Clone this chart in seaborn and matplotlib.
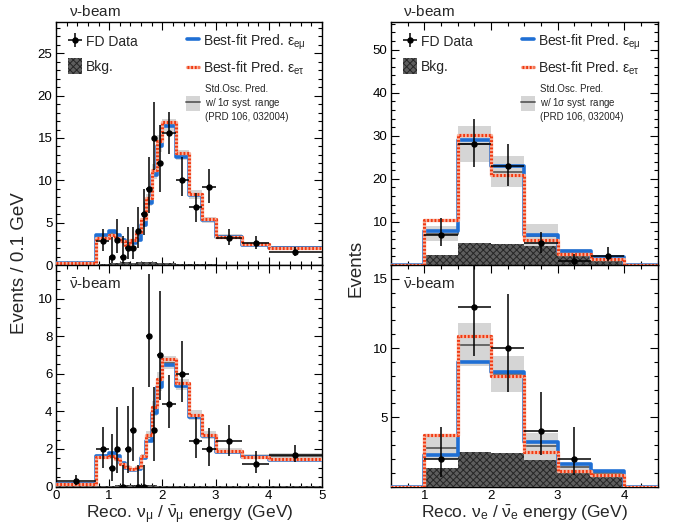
import numpy as np
import pandas as pd
import matplotlib
matplotlib.use("Agg")
import matplotlib.pyplot as plt
import seaborn as sns
from matplotlib.lines import Line2D
from matplotlib.patches import Patch
from matplotlib.ticker import MultipleLocator, FixedLocator

nan = np.nan

# ---- binning (GeV) ----
numu_edges = [0, 0.75, 1.0, 1.1, 1.2, 1.3, 1.4, 1.5, 1.6, 1.7, 1.8, 1.9, 2.0,
              2.25, 2.5, 2.75, 3.0, 3.5, 4.0, 5.0]
nue_edges = [0.5, 1.0, 1.5, 2.0, 2.5, 3.0, 3.5, 4.0, 4.5]

# ---- nu-beam, numu (events / 0.1 GeV) ----
fhc_mu_emu = [0.2, 3.5, 4.0, 3.5, 3.0, 2.5, 2.6, 3.0, 4.7, 7.3, 10.6, 14.0, 16.4, 12.8, 8.3, 5.3, 3.3, 2.4, 2.0]
fhc_mu_etau = [0.2, 3.2, 3.6, 3.2, 2.8, 2.4, 3.0, 3.9, 5.4, 7.9, 11.2, 14.6, 16.9, 13.2, 8.4, 5.4, 3.35, 2.5, 2.05]
fhc_mu_std = [0.2, 3.3, 3.8, 3.3, 2.9, 2.5, 2.8, 3.5, 5.0, 7.7, 11.0, 14.3, 16.5, 13.0, 8.3, 5.3, 3.4, 2.5, 2.1]
fhc_mu_syst = [0.05, 0.3, 0.3, 0.3, 0.3, 0.25, 0.3, 0.35, 0.5, 0.7, 0.9, 1.0, 0.8, 0.6, 0.5, 0.35, 0.3, 0.25, 0.2]
fhc_mu_bkg = [0.05, 0.15, 0.2, 0.25, 0.3, 0.3, 0.25, 0.3, 0.35, 0.35, 0.3, 0.25, 0.2, 0.15, 0.1, 0.08, 0.05, 0.04, 0.03]
fhc_mu_data = [nan, 2.8, 1.0, 3.0, 1.0, 2.0, 2.0, 4.0, 6.0, 9.0, 15.0, 12.0, 15.6, 10.0, 6.8, 9.2, 3.2, 2.6, 1.5]
fhc_mu_lo = [nan, 1.1, 0.8, 1.6, 0.8, 1.3, 1.3, 2.0, 2.5, 2.9, 3.8, 3.4, 2.5, 1.9, 1.7, 1.9, 0.85, 0.75, 0.45]
fhc_mu_hi = [nan, 1.4, 2.3, 2.4, 2.4, 2.5, 2.5, 2.8, 3.0, 3.8, 4.3, 4.5, 2.5, 2.8, 1.7, 2.1, 1.1, 0.85, 0.6]

# ---- antinu-beam, numu (events / 0.1 GeV) ----
rhc_mu_emu = [0.15, 1.64, 1.76, 1.6, 1.25, 1.0, 0.88, 0.95, 1.5, 2.45, 3.9, 5.3, 6.45, 5.35, 3.7, 2.7, 1.85, 1.55, 1.4]
rhc_mu_etau = [0.15, 1.55, 1.64, 1.46, 1.2, 1.05, 0.92, 1.05, 1.65, 2.75, 4.25, 5.75, 6.8, 5.5, 3.8, 2.75, 1.9, 1.55, 1.45]
rhc_mu_std = [0.17, 1.6, 1.7, 1.55, 1.22, 1.02, 0.9, 1.0, 1.6, 2.65, 4.15, 5.6, 6.6, 5.45, 3.8, 2.75, 1.9, 1.6, 1.6]
rhc_mu_syst = [0.08, 0.12, 0.12, 0.12, 0.1, 0.1, 0.1, 0.1, 0.15, 0.3, 0.4, 0.5, 0.35, 0.3, 0.25, 0.2, 0.15, 0.12, 0.17]
rhc_mu_bkg = [0.03, 0.05, 0.05, 0.06, 0.06, 0.06, 0.06, 0.06, 0.07, 0.07, 0.06, 0.05, 0.05, 0.04, 0.03, 0.03, 0.02, 0.02, 0.02]
rhc_mu_data = [0.27, 2.0, 1.0, 2.0, 0.0, 2.0, 3.0, 0.0, 0.0, 8.0, 3.0, 7.0, 4.4, 6.0, 2.4, 2.0, 2.4, 1.2, 1.7]
rhc_mu_lo = [0.17, 1.0, 0.7, 1.3, 0.0, 1.3, 1.65, 0.0, 0.0, 2.7, 1.65, 2.4, 1.3, 1.5, 0.9, 0.9, 0.76, 0.48, 0.42]
rhc_mu_hi = [0.35, 1.15, 1.8, 2.25, 1.15, 2.3, 2.3, 1.15, 1.15, 3.3, 2.3, 3.4, 1.55, 1.75, 1.3, 1.1, 0.87, 0.68, 0.5]

# ---- nu-beam, nue (events) ----
fhc_e_emu = [0, 7.8, 29.0, 23.0, 7.0, 3.3, 1.9, 0]
fhc_e_etau = [0, 10.5, 30.2, 21.0, 5.7, 2.5, 1.3, 0]
fhc_e_std = [0, 7.3, 28.0, 21.7, 6.8, 2.8, 1.5, 0]
fhc_e_syst = [0, 1.7, 4.2, 3.7, 2.7, 0.8, 0.5, 0]
fhc_e_bkg = [0, 2.4, 5.0, 4.9, 4.5, 2.0, 1.5, 0]
fhc_e_data = [nan, 7, 28, 23, 5, 1, 2, nan]
fhc_e_lo = [nan, 2.6, 5.2, 4.7, 2.3, 0.9, 1.0, nan]
fhc_e_hi = [nan, 3.8, 5.8, 5.2, 2.7, 1.6, 2.2, nan]

# ---- antinu-beam, nue (events) ----
rhc_e_emu = [0, 2.3, 9.0, 8.3, 3.2, 1.6, 1.1, 0]
rhc_e_etau = [0, 3.7, 10.9, 8.0, 2.5, 1.15, 0.85, 0]
rhc_e_std = [0, 2.8, 10.25, 8.1, 2.9, 1.4, 0.95, 0]
rhc_e_syst = [0, 0.8, 1.55, 1.3, 0.95, 0.3, 0.2, 0]
rhc_e_bkg = [0, 1.35, 2.5, 2.45, 1.9, 1.2, 0.9, 0]
rhc_e_data = [nan, 2, 13, 10, 4, 2, nan, nan]
rhc_e_lo = [nan, 1.3, 3.6, 3.2, 1.7, 1.2, nan, nan]
rhc_e_hi = [nan, 2.3, 4.7, 3.9, 2.8, 2.3, nan, nan]

BLUE = '#1f6fd4'
RED = '#f03a12'
SALMON = '#f8b19c'
BAND = '#d5d5d5'
STDLINE = '#5e5e5e'
BKG_FACE = '#5e5e5e'
BKG_HATCH = '#262626'

sns.set_style("ticks")
plt.rcParams['font.family'] = ['Liberation Sans', 'DejaVu Sans']
plt.rcParams['mathtext.fontset'] = 'custom'
plt.rcParams['mathtext.rm'] = 'Liberation Sans'
plt.rcParams['mathtext.it'] = 'Liberation Sans:italic'
plt.rcParams['mathtext.default'] = 'regular'
plt.rcParams['hatch.linewidth'] = 0.7
plt.rcParams['xtick.direction'] = 'in'
plt.rcParams['ytick.direction'] = 'in'


def step_line(ax, edges, vals, **kw):
    # histogram outline: repeat the last bin content at the upper edge
    df = pd.DataFrame({'x': list(edges), 'y': list(vals) + [vals[-1]]})
    sns.lineplot(data=df, x='x', y='y', drawstyle='steps-post', ax=ax,
                 estimator=None, sort=False, **kw)


def draw_panel(ax, edges, emu, etau, std, syst, bkg, data, lo, hi):
    edges = np.asarray(edges, float)
    std_a = np.asarray(std, float)
    syst_a = np.asarray(syst, float)
    # syst band
    ax.stairs(std_a + syst_a, edges, baseline=std_a - syst_a, fill=True,
              color=BAND, linewidth=0, zorder=1)
    step_line(ax, edges, std, color=STDLINE, linewidth=1.3, zorder=2)
    # background
    ax.stairs(bkg, edges, baseline=0, fill=True, facecolor=BKG_FACE,
              edgecolor=BKG_HATCH, hatch='xxxxx', linewidth=0, zorder=3)
    step_line(ax, edges, emu, color=BLUE, linewidth=2.6, zorder=4)
    step_line(ax, edges, etau, color=SALMON, linewidth=2.4, zorder=5)
    step_line(ax, edges, etau, color=RED, linewidth=2.2, linestyle=(0, (0.6, 0.6)), zorder=6)
    centers = (edges[1:] + edges[:-1]) / 2
    halfw = (edges[1:] - edges[:-1]) / 2
    eb = ax.errorbar(centers, data, xerr=halfw, yerr=[lo, hi], fmt='o', color='black',
                     ms=3.6, elinewidth=1.1, capsize=0, zorder=7)
    ax.set_xlabel('')
    ax.set_ylabel('')
    ax.tick_params(direction='in', which='both', top=True, right=True,
                   labelsize=9.5, width=0.8, colors='black', pad=2.5)
    ax.tick_params(which='major', length=6)
    ax.tick_params(which='minor', length=3)
    for s in ax.spines.values():
        s.set_linewidth(1.0)
        s.set_color('black')
    return eb


fig = plt.figure(figsize=(6.73, 5.25), dpi=100)
W, H = 673, 525


def add_ax(x0, y0, x1, y1):
    return fig.add_axes([x0 / W, 1 - y1 / H, (x1 - x0) / W, (y1 - y0) / H])


ax_tl = add_ax(56, 22, 322, 265)
ax_bl = add_ax(56, 265, 322, 486.5)
ax_tr = add_ax(391, 22, 657.5, 265)
ax_br = add_ax(391, 265, 657.5, 486.5)

eb_tl = draw_panel(ax_tl, numu_edges, fhc_mu_emu, fhc_mu_etau, fhc_mu_std, fhc_mu_syst,
                   fhc_mu_bkg, fhc_mu_data, fhc_mu_lo, fhc_mu_hi)
draw_panel(ax_bl, numu_edges, rhc_mu_emu, rhc_mu_etau, rhc_mu_std, rhc_mu_syst,
           rhc_mu_bkg, rhc_mu_data, rhc_mu_lo, rhc_mu_hi)
eb_tr = draw_panel(ax_tr, nue_edges, fhc_e_emu, fhc_e_etau, fhc_e_std, fhc_e_syst,
                   fhc_e_bkg, fhc_e_data, fhc_e_lo, fhc_e_hi)
draw_panel(ax_br, nue_edges, rhc_e_emu, rhc_e_etau, rhc_e_std, rhc_e_syst,
           rhc_e_bkg, rhc_e_data, rhc_e_lo, rhc_e_hi)

# limits and ticks
for ax in (ax_tl, ax_bl):
    ax.set_xlim(0, 5)
    ax.xaxis.set_major_locator(MultipleLocator(1))
    ax.xaxis.set_minor_locator(MultipleLocator(0.2))
for ax in (ax_tr, ax_br):
    ax.set_xlim(0.5, 4.5)
    ax.xaxis.set_major_locator(FixedLocator([1, 2, 3, 4]))
    ax.xaxis.set_minor_locator(MultipleLocator(0.25))

ax_tl.set_ylim(0, 28.7)
ax_tl.yaxis.set_major_locator(MultipleLocator(5))
ax_tl.yaxis.set_minor_locator(MultipleLocator(1))
ax_bl.set_ylim(0, 11.8)
ax_bl.yaxis.set_major_locator(MultipleLocator(2))
ax_bl.yaxis.set_minor_locator(MultipleLocator(0.5))
ax_tr.set_ylim(0, 56.4)
ax_tr.yaxis.set_major_locator(FixedLocator([10, 20, 30, 40, 50]))
ax_tr.yaxis.set_minor_locator(MultipleLocator(2))
ax_br.set_ylim(0, 16.0)
ax_br.yaxis.set_major_locator(FixedLocator([5, 10, 15]))
ax_br.yaxis.set_minor_locator(MultipleLocator(1))

for ax in (ax_tl, ax_tr):
    ax.tick_params(labelbottom=False)

# beam labels
ax_tl.text(0.049, 1.042, r'$\nu$-beam', transform=ax_tl.transAxes, fontsize=11, va='center')
ax_tr.text(0.045, 1.042, r'$\nu$-beam', transform=ax_tr.transAxes, fontsize=11, va='center')
ax_bl.text(0.049, 0.915, r'$\bar{\nu}$-beam', transform=ax_bl.transAxes, fontsize=11, va='center')
ax_br.text(0.045, 0.915, r'$\bar{\nu}$-beam', transform=ax_br.transAxes, fontsize=11, va='center')

# axis titles
fig.text(20 / W, 1 - 263 / H, 'Events / 0.1 GeV', rotation=90, ha='center', va='center', fontsize=13.5)
fig.text(356 / W, 1 - 268 / H, 'Events', rotation=90, ha='center', va='center', fontsize=13.5)
fig.text(190 / W, 1 - 518 / H, r'Reco. $\nu_\mu$ / $\bar{\nu}_\mu$ energy (GeV)',
         ha='center', va='baseline', fontsize=12.5)
fig.text(524 / W, 1 - 518 / H, r'Reco. $\nu_e$ / $\bar{\nu}_e$ energy (GeV)',
         ha='center', va='baseline', fontsize=12.5)

# legends on the top panels
bkg_h = Patch(facecolor=BKG_FACE, edgecolor=BKG_HATCH, hatch='xxxxx', linewidth=0)
blue_h = Line2D([], [], color=BLUE, lw=2.6)
red_h = (Line2D([], [], color=SALMON, lw=2.4),
         Line2D([], [], color=RED, lw=2.2, linestyle=(0, (0.6, 0.6))))
std_h = (Patch(facecolor=BAND, linewidth=0), Line2D([], [], color=STDLINE, lw=1.3))

for ax, eb in ((ax_tl, eb_tl), (ax_tr, eb_tr)):
    leg1 = ax.legend([eb, bkg_h], ['FD Data', 'Bkg.'], loc='upper left',
                     bbox_to_anchor=(0.025, 0.975), frameon=False, fontsize=10,
                     handlelength=1.0, handleheight=1.4, handletextpad=0.3,
                     labelspacing=0.6, borderaxespad=0)
    ax.add_artist(leg1)
    leg2 = ax.legend([blue_h, red_h],
                     [r'Best-fit Pred. $\varepsilon_{e\mu}$', r'Best-fit Pred. $\varepsilon_{e\tau}$'],
                     loc='upper left', bbox_to_anchor=(0.47, 0.98), frameon=False,
                     fontsize=10, handlelength=0.9, handleheight=1.4, handletextpad=0.3,
                     labelspacing=0.6, borderaxespad=0)
    ax.add_artist(leg2)
    ax.legend([std_h], ['Std.Osc. Pred.\nw/ 1$\\sigma$ syst. range\n(PRD 106, 032004)'],
              loc='upper left', bbox_to_anchor=(0.475, 0.76), frameon=False,
              fontsize=7, handlelength=1.4, handleheight=2.0, handletextpad=0.5,
              labelspacing=0.2, borderaxespad=0)

fig.savefig('out.png', dpi=100)
